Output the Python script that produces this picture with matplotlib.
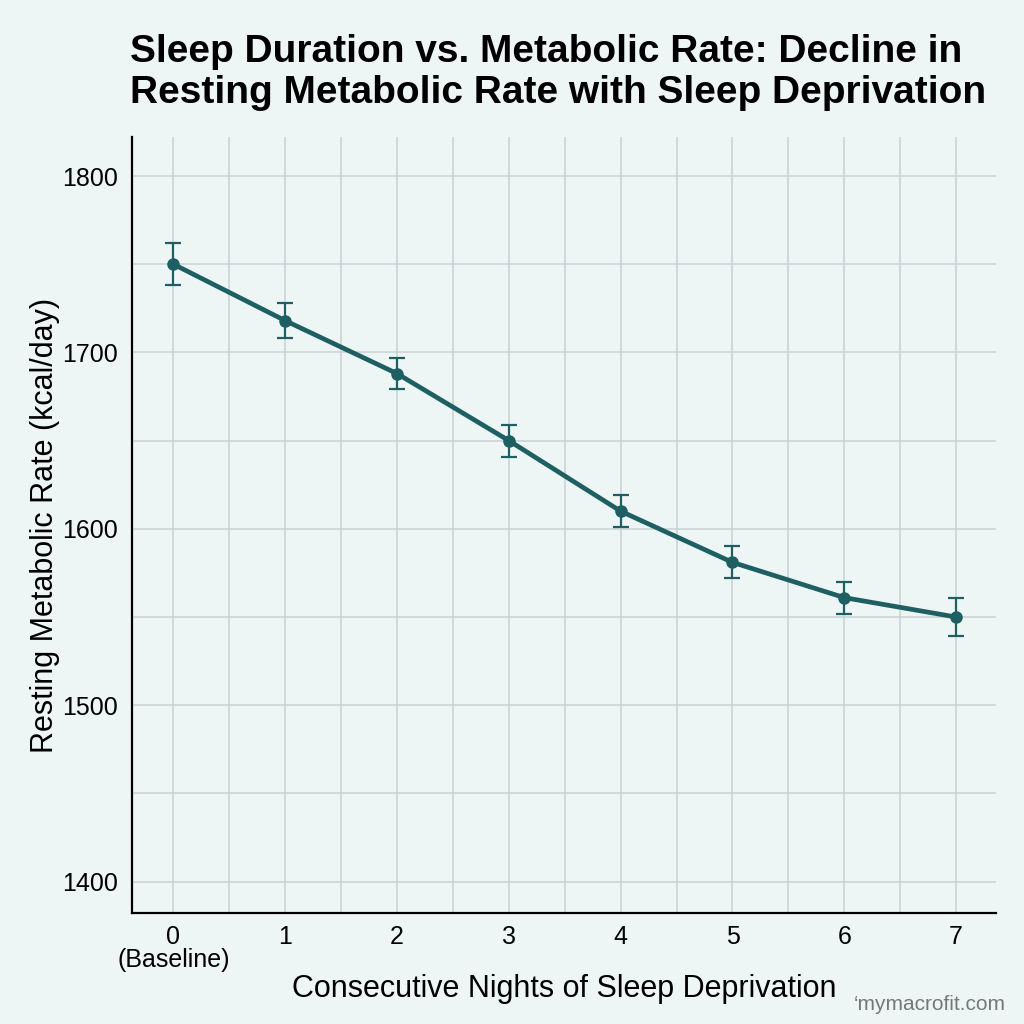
import numpy as np
import matplotlib.pyplot as plt
from matplotlib.ticker import MultipleLocator

plt.rcParams['font.family'] = ['Liberation Sans', 'DejaVu Sans']

# Data
nights = [0, 1, 2, 3, 4, 5, 6, 7]
tick_labels = ['0\n(Baseline)', '1', '2', '3', '4', '5', '6', '7']
rmr = [1750, 1718, 1688, 1650, 1610, 1581, 1561, 1550]
rmr_err = [12, 10, 9, 9, 9, 9, 9, 11]

bg = '#eef6f5'
teal = '#1e5f63'

fig = plt.figure(figsize=(10.24, 10.24), dpi=100, facecolor=bg)
ax = fig.add_axes([0.129, 0.108, 0.844, 0.758])
ax.set_facecolor(bg)

ax.errorbar(nights, rmr, yerr=rmr_err, color=teal, lw=3.4, marker='o', ms=8,
            capsize=6, elinewidth=1.6, capthick=1.6, zorder=3)

ax.set_xlim(-0.37, 7.36)
ax.set_ylim(1382, 1822)
ax.set_xticks(nights)
ax.set_xticklabels(tick_labels, fontsize=18, linespacing=0.95)
ax.set_yticks([1400, 1500, 1600, 1700, 1800])
ax.tick_params(axis='y', labelsize=18, length=0, pad=10)
ax.tick_params(axis='x', length=0, pad=8)
ax.xaxis.set_minor_locator(MultipleLocator(0.5))
ax.yaxis.set_minor_locator(MultipleLocator(50))
ax.tick_params(which='minor', length=0)
ax.grid(True, which='both', color='#c9d2d2', lw=1.1)
ax.set_axisbelow(True)

for s in ['top', 'right']:
    ax.spines[s].set_visible(False)
for s in ['left', 'bottom']:
    ax.spines[s].set_linewidth(1.6)
    ax.spines[s].set_color('black')

ax.set_xlabel('Consecutive Nights of Sleep Deprivation', fontsize=22, labelpad=2)
ax.set_ylabel('Resting Metabolic Rate (kcal/day)', fontsize=22, labelpad=2)

fig.text(0.127, 0.892, 'Sleep Duration vs. Metabolic Rate: Decline in\nResting Metabolic Rate with Sleep Deprivation',
         fontsize=28, fontweight='bold', ha='left', va='bottom', linespacing=1.15)
fig.text(0.982, 0.01, '\u2018mymacrofit.com', fontsize=15, color='#777777', ha='right', va='bottom')

fig.savefig('out.png', dpi=100, facecolor=bg)
